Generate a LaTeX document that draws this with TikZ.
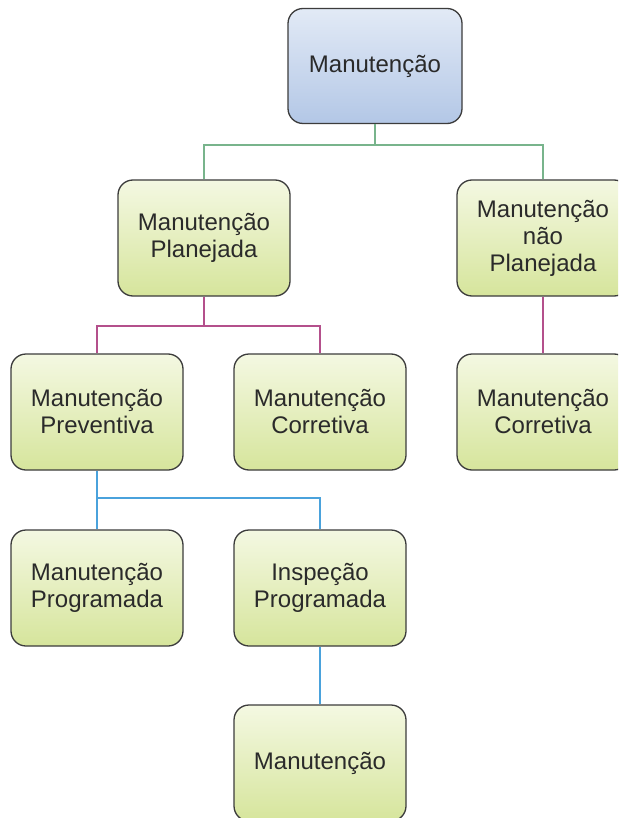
\documentclass[tikz,border=0pt]{standalone}
\usepackage{fontspec}
\setmainfont{Liberation Sans}
\definecolor{bluetop}{HTML}{E2EAF6}
\definecolor{bluebot}{HTML}{B3C7E6}
\definecolor{greentop}{HTML}{F4F8E2}
\definecolor{greenbot}{HTML}{D6E59C}
\definecolor{boxline}{HTML}{3C3C3C}
\definecolor{txt}{HTML}{2A2A2A}
\definecolor{lgreen}{HTML}{78B48C}
\definecolor{lmag}{HTML}{B4508C}
\definecolor{lblue}{HTML}{4AA2DC}
\tikzset{
  box/.style={draw=boxline, line width=1.3pt, rounded corners=15pt,
    minimum width=172pt, minimum height=116pt, align=center, text=txt,
    font=\fontsize{24}{27}\selectfont, inner sep=2pt},
  rootbox/.style={box, top color=bluetop, bottom color=bluebot, minimum width=174pt, minimum height=115pt},
  gbox/.style={box, top color=greentop, bottom color=greenbot},
  conn/.style={line width=1.2pt},
}
\begin{document}
\begin{tikzpicture}[x=1pt,y=-1pt]
\useasboundingbox (0,0) rectangle (618,818);
\clip (0,0) rectangle (618,818);
\fill[white] (0,0) rectangle (618,818);
\node[rootbox] (root) at (375,66) {Manutenção};
\node[gbox] (plan) at (204,238) {Manutenção\\Planejada};
\node[gbox] (nplan) at (543,238) {Manutenção\\não\\Planejada};
\node[gbox] (prev) at (97,412) {Manutenção\\Preventiva};
\node[gbox] (corr) at (320,412) {Manutenção\\Corretiva};
\node[gbox] (corr2) at (543,412) {Manutenção\\Corretiva};
\node[gbox] (prog) at (97,588) {Manutenção\\Programada};
\node[gbox] (insp) at (320,588) {Inspeção\\Programada};
\node[gbox] (man) at (320,763) {Manutenção};
\coordinate (j1) at (375,145);
\coordinate (j2) at (204,326);
\coordinate (j3) at (97,498);
\draw[conn, lgreen] (root.south) -- (j1) -| (plan.north);
\draw[conn, lgreen] (j1) -| (nplan.north);
\draw[conn, lmag] (plan.south) -- (j2) -| (prev.north);
\draw[conn, lmag] (j2) -| (corr.north);
\draw[conn, lmag] (nplan.south) -- (corr2.north);
\draw[conn, lblue] (prev.south) -- (j3) -- (prog.north);
\draw[conn, lblue] (j3) -| (insp.north);
\draw[conn, lblue] (insp.south) -- (man.north);
\end{tikzpicture}
\end{document}
